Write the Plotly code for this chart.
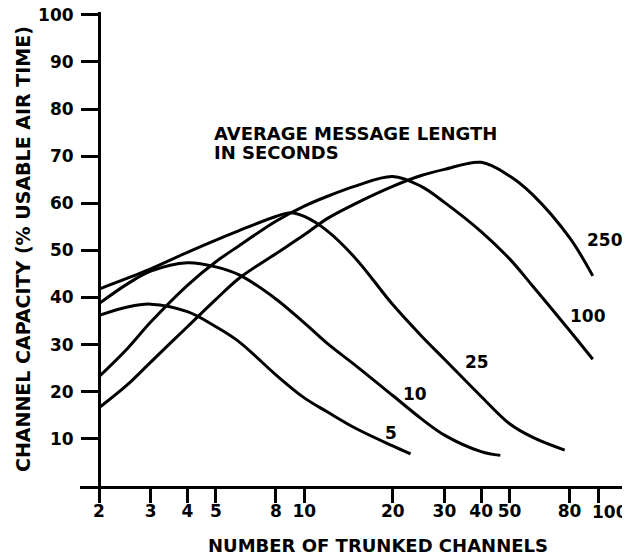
import plotly.graph_objects as go

# ---- data ----
x_5 = [2, 2.5, 3, 4, 5, 6, 8, 10, 12, 15, 20, 23]
y_5 = [36.2, 38.0, 38.6, 37.0, 33.8, 30.6, 23.6, 18.7, 15.7, 12.2, 8.5, 6.8]

x_10 = [2, 2.5, 3, 4, 5, 6, 8, 10, 12, 15, 20, 25, 30, 40, 46.5]
y_10 = [38.7, 42.9, 45.6, 47.4, 46.5, 44.8, 39.7, 34.6, 30.2, 25.5, 19.2, 14.3, 10.8, 7.3, 6.5]

x_25 = [2, 2.5, 3, 4, 5, 6, 8, 9, 10, 12, 15, 20, 25, 30, 40, 50, 60, 77]
y_25 = [41.8, 44.1, 46.1, 49.6, 52.2, 54.2, 57.2, 58.0, 57.2, 54.1, 48.2, 38.5, 31.9, 26.9, 19.0, 13.2, 10.3, 7.6]

x_100 = [2, 2.5, 3, 4, 5, 6, 8, 10, 12, 15, 20, 25, 30, 40, 50, 60, 80, 96]
y_100 = [23.2, 29.2, 34.8, 42.6, 47.6, 51.0, 56.2, 59.4, 61.5, 63.7, 65.7, 63.6, 60.2, 54.0, 48.2, 42.4, 33.0, 26.9]

x_250 = [2, 2.5, 3, 4, 5, 6, 8, 10, 12, 15, 20, 25, 30, 40, 50, 60, 80, 96]
y_250 = [16.6, 21.5, 26.3, 33.8, 39.6, 44.1, 49.3, 53.3, 56.8, 60.0, 63.6, 65.9, 67.2, 68.7, 65.8, 61.8, 52.7, 44.6]

x_ticks = [2, 3, 4, 5, 8, 10, 20, 30, 40, 50, 80, 100]
x_tick_labels = ["2", "3", "4", "5", "8", "10", "20", "30", "40", "50", "80", "100"]
y_ticks = [10, 20, 30, 40, 50, 60, 70, 80, 90, 100]
y_tick_labels = ["10", "20", "30", "40", "50", "60", "70", "80", "90", "100"]

series = [("5", x_5, y_5), ("10", x_10, y_10), ("25", x_25, y_25),
          ("100", x_100, y_100), ("250", x_250, y_250)]

FONT = "DejaVu Sans"

fig = go.Figure()
for name, xs, ys in series:
    fig.add_trace(go.Scatter(
        x=xs, y=ys, mode="lines", name=name,
        line=dict(color="black", width=3, shape="spline", smoothing=1.0),
        showlegend=False, hoverinfo="skip"))

# the last x label sits a little right of its tick in the reference; drawn as an annotation
x_ticktext = x_tick_labels[:-1] + [""]

tickfont = dict(family=FONT, size=17, color="black", weight="bold")
# page body has an 8px margin, so the figure is sized to fill the 630x555 window
fig.update_layout(
    width=622, height=547,
    margin=dict(l=72, r=5, t=4, b=69),
    paper_bgcolor="white", plot_bgcolor="white",
    font=dict(family=FONT, size=17, color="black", weight="bold"),
    xaxis=dict(
        type="log", range=[0.2363, 2.0919], automargin=False, tickangle=0,
        tickmode="array", tickvals=x_ticks, ticktext=x_ticktext,
        ticks="outside", ticklen=14, tickwidth=3, tickcolor="black",
        showline=True, linewidth=3, linecolor="black",
        showgrid=False, zeroline=False, tickfont=tickfont,
        ticklabelstandoff=-6, ticklabeloverflow="allow",
    ),
    yaxis=dict(
        range=[0, 100.6], anchor="free", position=0.0349, automargin=False,
        tickmode="array", tickvals=y_ticks, ticktext=y_tick_labels,
        ticks="outside", ticklen=17, tickwidth=3, tickcolor="black",
        showline=True, linewidth=3, linecolor="black",
        showgrid=False, zeroline=False, tickfont=tickfont,
        ticklabelstandoff=4, ticklabeloverflow="allow",
    ),
)

tf = dict(family=FONT, size=18, color="black", weight="bold")
lf = dict(family=FONT, size=17, color="black", weight="bold")
yf = dict(family=FONT, size=19, color="black", weight="bold")
ann = [
    dict(text=x_tick_labels[-1], x=0.9725, y=-0.0555, xanchor="center", yanchor="middle", font=tickfont),
    dict(text="AVERAGE MESSAGE LENGTH", x=0.2422, y=0.7436, xanchor="left", yanchor="middle", font=tf),
    dict(text="IN SECONDS", x=0.2422, y=0.7036, xanchor="left", yanchor="middle", font=tf),
    dict(text="250", x=0.9633, y=0.519, xanchor="center", yanchor="middle", font=lf),
    dict(text="100", x=0.932, y=0.3586, xanchor="center", yanchor="middle", font=lf),
    dict(text="25", x=0.7284, y=0.2616, xanchor="center", yanchor="middle", font=lf),
    dict(text="10", x=0.6147, y=0.1941, xanchor="center", yanchor="middle", font=lf),
    dict(text="5", x=0.5706, y=0.1118, xanchor="center", yanchor="middle", font=lf),
    dict(text="NUMBER OF TRUNKED CHANNELS", x=0.546, y=-0.1245, xanchor="center", yanchor="middle", font=tf),
    dict(text="CHANNEL CAPACITY (% USABLE AIR TIME)", x=-0.1046, y=0.5,
         xanchor="center", yanchor="middle", textangle=-90, font=yf),
]
for a in ann:
    fig.add_annotation(xref="paper", yref="paper", showarrow=False, **a)

fig.write_html("out.html")
